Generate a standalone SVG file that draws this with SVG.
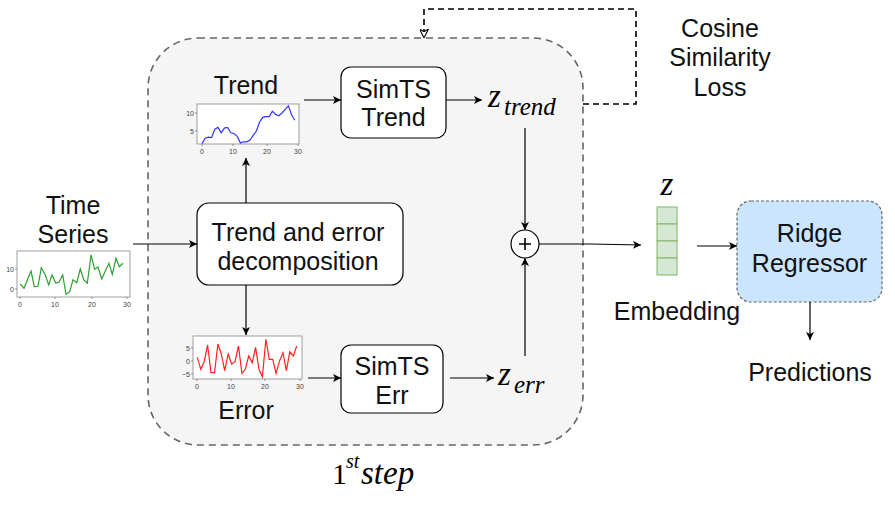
<svg xmlns="http://www.w3.org/2000/svg" width="895" height="515" viewBox="0 0 895 515">
<defs>
<marker id="arr" viewBox="0 0 10 10" refX="10" refY="5" markerWidth="8" markerHeight="8" markerUnits="userSpaceOnUse" orient="auto"><path d="M0,0 L10,5 L0,10 L2.5,5 Z" fill="#000"/></marker>
<marker id="open" viewBox="0 0 10 10" refX="10" refY="5" markerWidth="9" markerHeight="9" markerUnits="userSpaceOnUse" orient="auto"><path d="M0,0 L10,5 L0,10 L3,5 Z" fill="#fff" stroke="#000" stroke-width="1.2"/></marker>
</defs>
<style>
.lbl{font-family:"Liberation Sans",Arial,sans-serif;font-size:25px;fill:#111;text-anchor:middle}
.box{fill:#fff;stroke:#000;stroke-width:1.2}
.math{font-family:"Liberation Serif","Times New Roman",serif;font-style:italic;fill:#000}
.up{font-family:"Liberation Serif","Times New Roman",serif;font-style:normal;fill:#000}
.c{stroke:#000;stroke-width:1.2;fill:none}
.frame{fill:#fff;stroke:#888;stroke-width:0.8}
.tick{font-family:"Liberation Sans",Arial,sans-serif;font-size:7px;fill:#444;text-anchor:middle}
.tickr{font-family:"Liberation Sans",Arial,sans-serif;font-size:7px;fill:#444;text-anchor:end}
.tm{stroke:#555;stroke-width:0.6}
</style>
<rect width="895" height="515" fill="#fff"/>

<g id="container">
<rect x="148" y="38" width="435" height="407" rx="50" fill="#f5f5f5" stroke="#666" stroke-width="1.6" stroke-dasharray="7,5"/>
<text x="332" y="484" class="up" font-size="30">1</text>
<text x="346" y="468" class="math" font-size="20">st</text>
<text x="361" y="484" class="math" font-size="33">step</text>
</g>

<g id="time-series">
<text x="73" y="214" class="lbl">Time</text>
<text x="73" y="243" class="lbl">Series</text>
<rect x="17" y="251" width="113" height="46" class="frame"/>
<polyline fill="none" stroke="#2ca02c" stroke-width="1.2" points="20.3,284 24,288.3 27.3,280 31,271 34.3,286.7 38,286.3 41.3,267.7 45,274.3 48.7,285 52,275 55.7,283 59,282.3 62.7,275 66,294.3 69.7,291.7 73,279.7 76.7,282.7 80.3,269 83.7,279.7 87.3,283.3 91,255 94.7,269.3 98,267 101.7,279 105.3,271 109,263.3 112.3,274.3 116,258.3 119.3,266.7 123,263.3"/>
<g class="tm"><line x1="20" y1="297" x2="20" y2="299"/><line x1="55" y1="297" x2="55" y2="299"/><line x1="92" y1="297" x2="92" y2="299"/><line x1="127" y1="297" x2="127" y2="299"/><line x1="15" y1="269" x2="17" y2="269"/><line x1="15" y1="289" x2="17" y2="289"/></g>
<text x="20" y="307" class="tick">0</text><text x="55" y="307" class="tick">10</text><text x="92" y="307" class="tick">20</text><text x="127" y="307" class="tick">30</text>
<text x="14" y="272" class="tickr">10</text><text x="14" y="292" class="tickr">0</text>
</g>

<g id="trend-chart">
<text x="246" y="94" class="lbl">Trend</text>
<rect x="197" y="104" width="102" height="40" class="frame"/>
<polyline fill="none" stroke="#3333ff" stroke-width="1.2" points="202,143.6 205.2,138.2 208.4,137.1 211.6,137.5 214.8,129.2 218,127.4 221.2,132.8 224.4,128.1 227.6,127.4 230.8,132.8 234,133.5 237.2,136.4 240.4,142.9 243.6,141.8 246.8,141.8 250,140 253.2,135.3 256.4,131 259.6,122 262.8,117.3 266,116.6 269.2,116.6 272.4,111.2 275.6,114.4 278.8,115.9 282,113 285.2,109.4 288.4,105.8 291.6,114.8 294.8,120.2"/>
<g class="tm"><line x1="202" y1="144" x2="202" y2="146"/><line x1="233" y1="144" x2="233" y2="146"/><line x1="267" y1="144" x2="267" y2="146"/><line x1="298" y1="144" x2="298" y2="146"/><line x1="195" y1="113" x2="197" y2="113"/><line x1="195" y1="131" x2="197" y2="131"/></g>
<text x="202" y="154" class="tick">0</text><text x="233" y="154" class="tick">10</text><text x="267" y="154" class="tick">20</text><text x="298" y="154" class="tick">30</text>
<text x="194" y="116" class="tickr">10</text><text x="194" y="134" class="tickr">5</text>
</g>

<g id="error-chart">
<text x="246" y="419" class="lbl">Error</text>
<rect x="193" y="336" width="109" height="43" class="frame"/>
<polyline fill="none" stroke="#ff2020" stroke-width="1.2" points="197.3,357.3 200.8,369.3 204.2,361.7 207.6,345 211,372.7 214.5,372.7 217.9,344 221.3,354 224.7,370.7 228.2,354 231.6,364 235,361.7 238.5,346 241.9,373.3 245.3,369.3 248.7,356 252.2,362.7 255.6,347.3 259,369.3 262.4,376.7 265.9,339.3 269.3,359.3 272.7,359.3 276.1,373.3 279.6,360.7 283,352.7 286.4,370.7 289.8,351.7 293.3,356 296.7,346"/>
<g class="tm"><line x1="197" y1="379" x2="197" y2="381"/><line x1="231" y1="379" x2="231" y2="381"/><line x1="265" y1="379" x2="265" y2="381"/><line x1="300" y1="379" x2="300" y2="381"/><line x1="191" y1="348" x2="193" y2="348"/><line x1="191" y1="361" x2="193" y2="361"/><line x1="191" y1="374" x2="193" y2="374"/></g>
<text x="197" y="389" class="tick">0</text><text x="231" y="389" class="tick">10</text><text x="265" y="389" class="tick">20</text><text x="300" y="389" class="tick">30</text>
<text x="190" y="351" class="tickr">5</text><text x="190" y="364" class="tickr">0</text><text x="190" y="377" class="tickr">−5</text>
</g>

<g id="decomposition">
<rect x="197" y="203" width="206" height="82" rx="12" class="box"/>
<text x="298" y="241" class="lbl">Trend and error</text>
<text x="298" y="270" class="lbl">decomposition</text>
</g>

<g id="simts-trend">
<rect x="341" y="67" width="105" height="71" rx="10" class="box"/>
<text x="393.5" y="98" class="lbl">SimTS</text>
<text x="393.5" y="126" class="lbl">Trend</text>
</g>

<g id="simts-err">
<rect x="341" y="345" width="102" height="68" rx="10" class="box"/>
<text x="392" y="375" class="lbl">SimTS</text>
<text x="392" y="404" class="lbl">Err</text>
</g>

<g id="z-trend">
<text x="488" y="107" class="math" font-size="33">z</text>
<text x="504" y="115" class="math" font-size="25">trend</text>
</g>

<g id="z-err">
<text x="498" y="385" class="math" font-size="33">z</text>
<text x="514" y="393" class="math" font-size="25">err</text>
</g>

<g id="plus">
<circle cx="525" cy="244" r="14" fill="#fff" stroke="#000" stroke-width="1.2"/>
<path d="M519,244 H531 M525,238 V250" stroke="#000" stroke-width="1.6"/>
</g>

<g id="embedding">
<text x="667" y="195" class="math" font-size="33" text-anchor="middle">z</text>
<rect x="657" y="207" width="20" height="17" fill="#d5e8d4" stroke="#82b366"/>
<rect x="657" y="224" width="20" height="17" fill="#d5e8d4" stroke="#82b366"/>
<rect x="657" y="241" width="20" height="17" fill="#d5e8d4" stroke="#82b366"/>
<rect x="657" y="258" width="20" height="17" fill="#d5e8d4" stroke="#82b366"/>
<text x="677" y="320" class="lbl">Embedding</text>
</g>

<g id="ridge">
<rect x="737" y="201" width="145" height="101" rx="14" fill="#cce5ff" stroke="#666" stroke-width="1.2" stroke-dasharray="3,2"/>
<text x="809.5" y="242" class="lbl">Ridge</text>
<text x="809.5" y="272" class="lbl">Regressor</text>
</g>

<g id="predictions">
<text x="810" y="381" class="lbl">Predictions</text>
</g>

<g id="loss-label">
<text x="720" y="37" class="lbl">Cosine</text>
<text x="720" y="66" class="lbl">Similarity</text>
<text x="720" y="96" class="lbl">Loss</text>
</g>

<g id="connectors">
<line x1="133" y1="244" x2="197" y2="244" class="c" marker-end="url(#arr)"/>
<line x1="246" y1="203" x2="246" y2="158" class="c" marker-end="url(#arr)"/>
<line x1="246" y1="285" x2="246" y2="335" class="c" marker-end="url(#arr)"/>
<line x1="304" y1="100" x2="341" y2="100" class="c" marker-end="url(#arr)"/>
<line x1="446" y1="100" x2="482" y2="100" class="c" marker-end="url(#arr)"/>
<line x1="525" y1="128" x2="525" y2="230" class="c" marker-end="url(#arr)"/>
<line x1="308" y1="378" x2="341" y2="378" class="c" marker-end="url(#arr)"/>
<line x1="450" y1="378" x2="494" y2="378" class="c" marker-end="url(#arr)"/>
<line x1="525" y1="356" x2="525" y2="258" class="c" marker-end="url(#arr)"/>
<polyline points="539,244 590,244 641,245" class="c" marker-end="url(#arr)"/>
<line x1="697" y1="246" x2="737" y2="246" class="c" marker-end="url(#arr)"/>
<line x1="810" y1="302" x2="810" y2="340" class="c" marker-end="url(#arr)"/>
<polyline points="583,104 636,104 636,9 424,9 424,38" fill="none" stroke="#000" stroke-width="1.6" stroke-dasharray="6,4" marker-end="url(#open)"/>
</g>
</svg>
